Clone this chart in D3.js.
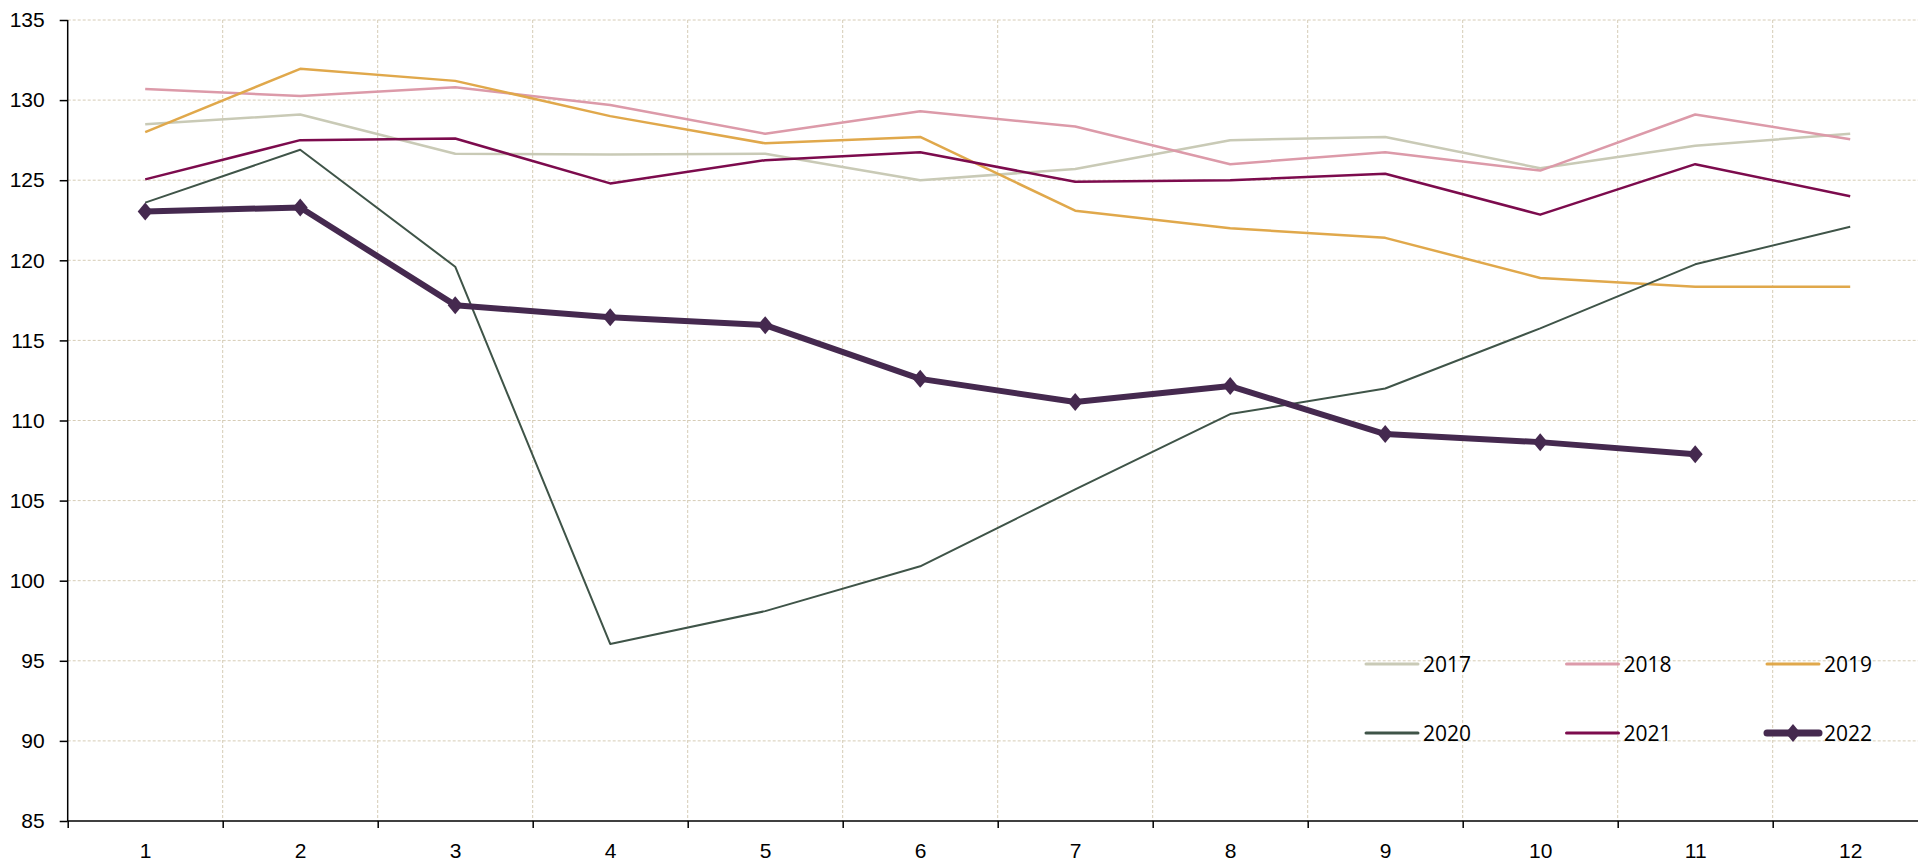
<!DOCTYPE html>
<html>
<head>
<meta charset="utf-8">
<script src="https://cdn.jsdelivr.net/npm/d3@7"></script>
<style>
  body { margin: 0; background: #fff; }
  svg { display: block; font-family: 'Open Sans', sans-serif; }
  .grid line { stroke: #d6ccb6; stroke-dasharray: 3,2; }
  .axis path, .axis line { stroke: #000; stroke-width: 1.5; }
  .axis text { font-size: 21px; fill: #000; }
  .legend text { font-size: 21px; fill: #000; }
</style>
</head>
<body>
<svg id="chart" width="1918" height="863"></svg>
<script>
// months on the x axis
const months = [1, 2, 3, 4, 5, 6, 7, 8, 9, 10, 11, 12];
const yTicks = [85, 90, 95, 100, 105, 110, 115, 120, 125, 130, 135];

const v2017 = [128.5, 129.1, 126.65, 126.6, 126.65, 125.0, 125.7, 127.5, 127.7, 125.75, 127.15, 127.9];
const v2018 = [130.7, 130.25, 130.8, 129.7, 127.9, 129.3, 128.35, 126.0, 126.75, 125.6, 129.1, 127.55];
const v2019 = [128.0, 131.95, 131.2, 129.0, 127.3, 127.7, 123.1, 122.0, 121.4, 118.9, 118.35, 118.35];
const v2020 = [123.6, 126.9, 119.6, 96.05, 98.1, 100.9, 105.7, 110.4, 112.0, 115.75, 119.75, 122.1];
const v2021 = [125.05, 127.5, 127.6, 124.8, 126.25, 126.75, 124.9, 125.0, 125.4, 122.85, 126.0, 124.0];
const v2022 = [123.05, 123.3, 117.2, 116.45, 115.95, 112.6, 111.15, 112.15, 109.15, 108.65, 107.9];

const years = ['2017', '2018', '2019', '2020', '2021', '2022'];
const colors = ['#c9cab6', '#dc9aa9', '#e0a84b', '#3f5448', '#7c0b4d', '#45294f'];
const widths = [2.5, 2.5, 2.5, 2, 2.5, 6];

const series = years.map((yr, i) => ({
  year: yr,
  color: colors[i],
  width: widths[i],
  marker: yr === '2022',
  values: [v2017, v2018, v2019, v2020, v2021, v2022][i],
}));

const W = 1918, H = 863;
const mLeft = 67.7, mTop = 20, mBottom = 821;
const band = 155;

const svg = d3.select('#chart');

const x = d3.scaleLinear().domain([0.5, 12.5]).range([mLeft, mLeft + 12 * band]);
const y = d3.scaleLinear().domain([85, 135]).range([mBottom, mTop]);

// gridlines
const grid = svg.append('g').attr('class', 'grid');
grid.selectAll('.h').data(yTicks.slice(1)).enter().append('line')
  .attr('x1', mLeft).attr('x2', W)
  .attr('y1', d => y(d)).attr('y2', d => y(d));
const bounds = d3.range(1.5, 13, 1);
grid.selectAll('.v').data(bounds).enter().append('line')
  .attr('x1', d => x(d)).attr('x2', d => x(d))
  .attr('y1', mTop).attr('y2', mBottom);

// axes
svg.append('g').attr('class', 'axis')
  .attr('transform', `translate(${mLeft},0)`)
  .call(d3.axisLeft(y).tickValues(yTicks).tickSize(8).tickPadding(15).tickSizeOuter(0))
  .call(g => g.select('.domain').attr('d', `M0,${mTop}V${mBottom}`));

svg.append('g').attr('class', 'axis')
  .attr('transform', `translate(0,${mBottom})`)
  .call(d3.axisBottom(x).tickValues(d3.range(0.5, 13, 1)).tickSize(7).tickFormat('').tickSizeOuter(0))
  .call(g => g.select('.domain').attr('d', `M${mLeft},0H${W}`));

svg.append('g').attr('class', 'axis')
  .attr('transform', `translate(0,${mBottom})`)
  .call(d3.axisBottom(x).tickValues(months).tickSize(0).tickPadding(22))
  .call(g => g.select('.domain').remove());

// lines
const line = d3.line().x((d, i) => x(months[i])).y(d => y(d));
const diamond = 'M0,-9L7.5,0L0,9L-7.5,0Z';

series.forEach(s => {
  svg.append('path')
    .datum(s.values)
    .attr('d', line)
    .attr('fill', 'none')
    .attr('stroke', s.color)
    .attr('stroke-width', s.width)
    .attr('stroke-linejoin', 'round');
  if (s.marker) {
    svg.selectAll(null).data(s.values).enter().append('path')
      .attr('d', diamond)
      .attr('fill', s.color)
      .attr('transform', (d, i) => `translate(${x(months[i])},${y(d)})`);
  }
});

// legend, 3 columns x 2 rows
const legend = svg.append('g').attr('class', 'legend');
series.forEach((s, i) => {
  const lx = 1366 + (i % 3) * 200.5;
  const ly = 664 + Math.floor(i / 3) * 69;
  const g = legend.append('g').attr('transform', `translate(${lx},${ly})`);
  g.append('line').attr('x1', 0).attr('x2', 52).attr('y1', 0).attr('y2', 0)
    .attr('stroke', s.color).attr('stroke-width', s.marker ? 7 : 3)
    .attr('stroke-linecap', 'round');
  if (s.marker) {
    g.append('path').attr('d', diamond).attr('fill', s.color)
      .attr('transform', 'translate(26,0)');
  }
  g.append('text').attr('x', 57).attr('y', 0).attr('dy', '0.36em').text(s.year);
});
</script>
</body>
</html>
